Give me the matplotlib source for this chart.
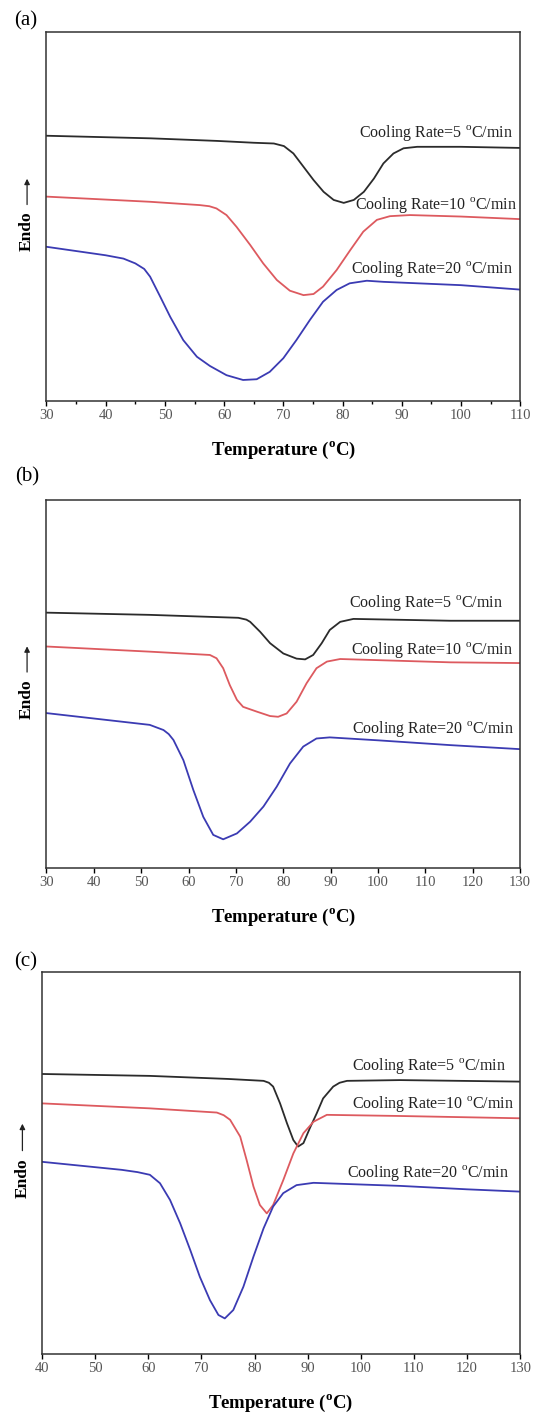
import numpy as np
import matplotlib.pyplot as plt
from matplotlib.ticker import MultipleLocator

plt.rcParams['font.family'] = ['Liberation Serif', 'DejaVu Serif']

# panel (a): temperature (deg C) and heat flow (arbitrary units, 0-100 of the frame)
a_x5 = [30, 47.6, 58.8, 65, 68.4, 70.1, 71.7, 73.4, 75.1, 76.8, 78.5, 80.2, 81.9, 83.6, 85.3, 86.9, 88.6, 90.3, 92.6, 100, 110]
a_y5 = [71.9, 71.2, 70.5, 70.0, 69.8, 69.1, 67.1, 63.5, 59.9, 56.7, 54.5, 53.7, 54.5, 56.7, 60.3, 64.4, 67.1, 68.5, 68.9, 68.9, 68.6]
a_x10 = [30, 47.5, 55.9, 57.5, 58.7, 60.4, 62.1, 64.4, 66.6, 68.9, 71.1, 73.4, 75.1, 76.7, 79.0, 81.3, 83.5, 85.8, 88.0, 91.4, 100, 110]
a_y10 = [55.4, 54.0, 53.1, 52.8, 52.2, 50.4, 47.2, 42.3, 37.3, 32.8, 29.9, 28.7, 29.0, 31.0, 35.5, 40.9, 45.9, 49.1, 50.1, 50.4, 50.0, 49.3]
a_x20 = [30, 40, 43, 45, 46.5, 47.5, 49.2, 50.9, 53.1, 55.4, 57.6, 60.4, 63.2, 65.5, 67.7, 70.0, 72.2, 74.5, 76.7, 79.0, 81.2, 84.1, 86.9, 100, 110]
a_y20 = [41.8, 39.5, 38.6, 37.3, 35.8, 33.7, 28.3, 22.8, 16.5, 12.0, 9.5, 7.0, 5.7, 5.9, 7.9, 11.6, 16.5, 22.0, 26.9, 30.1, 31.9, 32.6, 32.3, 31.4, 30.2]

# panel (b)
b_x5 = [30, 51.8, 70.5, 72.2, 73.0, 75.1, 77.2, 80.0, 82.8, 84.6, 86.3, 88.1, 89.8, 92.0, 94.8, 115.2, 130]
b_y5 = [69.4, 68.8, 68.0, 67.5, 66.9, 64.2, 61.1, 58.3, 56.9, 56.7, 57.9, 61.1, 64.7, 66.9, 67.7, 67.2, 67.2]
b_x10 = [30, 51.8, 64.5, 65.9, 67.3, 68.7, 70.2, 71.5, 74.4, 77.2, 78.9, 80.7, 82.8, 84.9, 87.0, 89.2, 92.0, 115.2, 130]
b_y10 = [60.2, 58.8, 57.9, 57.0, 54.3, 49.7, 45.7, 43.8, 42.5, 41.3, 41.1, 42.0, 45.2, 50.2, 54.3, 56.1, 56.8, 55.9, 55.7]
b_x20 = [30, 51.8, 54.7, 55.8, 56.8, 58.9, 61.0, 63.1, 65.2, 67.3, 70.2, 73.0, 75.8, 78.6, 81.4, 84.2, 87.0, 89.8, 100, 115.2, 130]
b_y20 = [42.1, 38.9, 37.5, 36.4, 34.8, 29.3, 21.2, 13.9, 9.0, 7.8, 9.4, 12.6, 16.7, 22.1, 28.4, 33.0, 35.2, 35.5, 34.7, 33.4, 32.3]

# panel (c)
c_x5 = [40, 60.3, 75, 81.7, 82.7, 83.5, 84.8, 86.1, 87.3, 88.2, 89.2, 90.4, 91.7, 92.9, 94.8, 96.0, 97.4, 107.4, 130]
c_y5 = [73.3, 72.8, 72.0, 71.5, 71.0, 70.0, 65.6, 60.4, 56.0, 54.3, 55.2, 59.1, 63.0, 66.9, 70.0, 71.0, 71.5, 71.7, 71.3]
c_x10 = [40, 60.3, 72.9, 74.2, 75.4, 77.3, 78.5, 79.8, 81.0, 82.3, 83.5, 85.4, 87.3, 89.2, 91.1, 93.6, 107.4, 130]
c_y10 = [65.6, 64.3, 63.2, 62.5, 61.3, 56.9, 50.8, 43.8, 39.0, 36.8, 39.0, 45.5, 52.5, 57.8, 60.8, 62.6, 62.3, 61.7]
c_x20 = [40, 55, 58, 60.3, 62.2, 64.1, 66.0, 67.9, 69.7, 71.6, 73.2, 74.4, 76.0, 77.9, 79.8, 81.7, 83.5, 85.4, 87.9, 91.1, 107.4, 120, 130]
c_y20 = [50.3, 48.2, 47.6, 46.9, 44.7, 40.3, 34.2, 27.2, 20.2, 14.1, 10.2, 9.3, 11.5, 17.6, 25.5, 32.9, 38.6, 42.1, 44.2, 44.8, 44.0, 43.1, 42.5]

labels = ['Cooling Rate=5 $^{\\mathregular{o}}$C/min',
          'Cooling Rate=10 $^{\\mathregular{o}}$C/min',
          'Cooling Rate=20 $^{\\mathregular{o}}$C/min']
colors = ['#2b2b2b', '#dd5a5f', '#3b3bb3']

panels = [
    dict(tag='(a)', tag_xy=(26, 21), xlim=(30, 110), rect=[0.0861, 0.7162, 0.8772, 0.2611],
         curves=[(a_x5, a_y5), (a_x10, a_y10), (a_x20, a_y20)],
         lab_x=[108.8, 109.4, 108.8], lab_y=[72.6, 53.1, 35.9], minor=True),
    dict(tag='(b)', tag_xy=(27, 477), xlim=(30, 130), rect=[0.0861, 0.3857, 0.8772, 0.2604],
         curves=[(b_x5, b_y5), (b_x10, b_y10), (b_x20, b_y20)],
         lab_x=[126.4, 128.5, 128.7], lab_y=[71.9, 59.3, 37.7], minor=False),
    dict(tag='(c)', tag_xy=(26, 962), xlim=(40, 130), rect=[0.0778, 0.0418, 0.8856, 0.2703],
         curves=[(c_x5, c_y5), (c_x10, c_y10), (c_x20, c_y20)],
         lab_x=[127.3, 128.8, 127.9], lab_y=[75.3, 65.4, 47.3], minor=False),
]

W, H = 540, 1413
fig = plt.figure(figsize=(W / 100, H / 100), dpi=100)

for p in panels:
    ax = fig.add_axes(p['rect'])
    for (xs, ys), col in zip(p['curves'], colors):
        ax.plot(xs, ys, color=col, lw=1.3, solid_joinstyle='round')
    for lx, ly, txt in zip(p['lab_x'], p['lab_y'], labels):
        ax.text(lx, ly, txt, ha='right', va='center', fontsize=11.5, color='#222222')
    ax.set_xlim(*p['xlim'])
    ax.set_ylim(0, 100)
    ax.set_yticks([])
    ax.xaxis.set_major_locator(MultipleLocator(10))
    if p['minor']:
        ax.xaxis.set_minor_locator(MultipleLocator(5))
    ax.tick_params(axis='x', direction='out', length=3.5, width=1.0, labelsize=10.5,
                   labelcolor='#555555', pad=2)
    ax.tick_params(axis='x', which='minor', direction='out', length=2, width=1.0)
    for sp in ax.spines.values():
        sp.set_linewidth(1.1)
        sp.set_color('#333333')
    ax.set_xlabel('Temperature ($^{\\mathregular{o}}$C)', fontsize=13.5, fontweight='bold', labelpad=13)
    ax.text(-0.041, 0.46, 'Endo', rotation=90, ha='center', va='center', fontsize=12.5,
            fontweight='bold', transform=ax.transAxes)
    ax.annotate('', xy=(-0.041, 0.61), xytext=(-0.041, 0.525), xycoords='axes fraction',
                arrowprops=dict(arrowstyle='-|>', color='#222222', lw=0.9, mutation_scale=8))
    fig.text(p['tag_xy'][0] / W, 1 - p['tag_xy'][1] / H, p['tag'], ha='center', va='center',
             fontsize=15)

fig.savefig('out.png', dpi=100)
